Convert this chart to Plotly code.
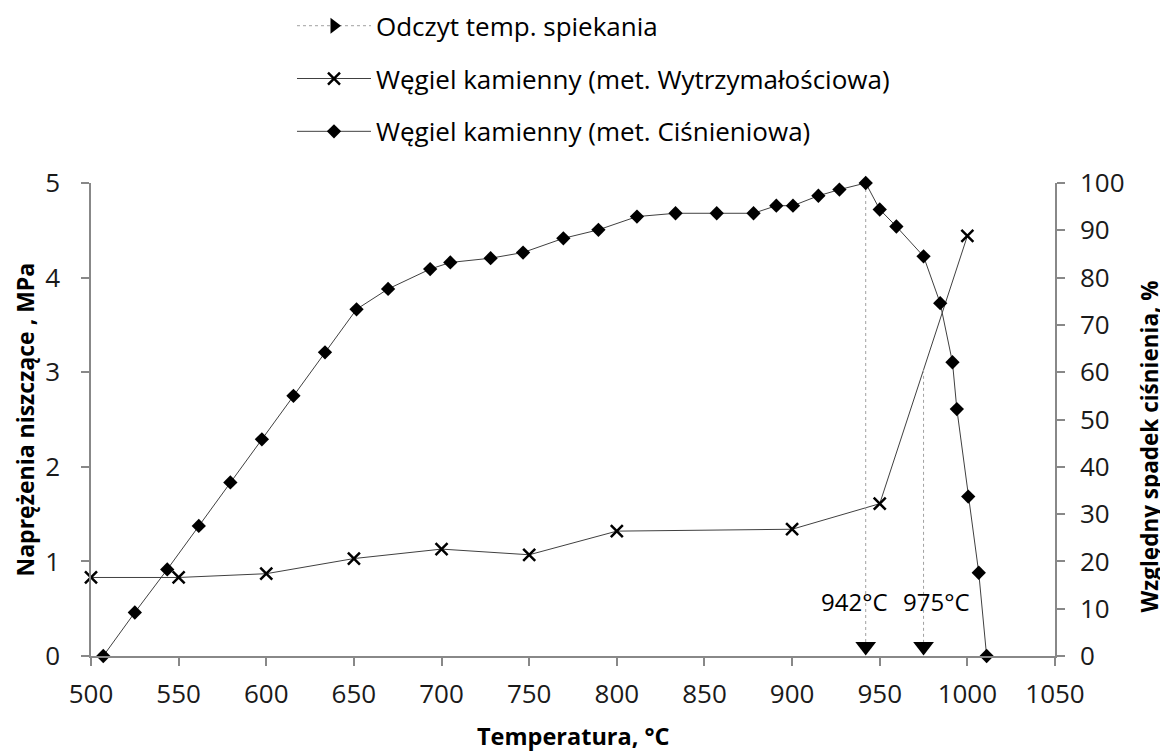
import plotly.graph_objects as go

# ---- data ----
temp_wytrz = [500, 550, 600, 650, 700, 750, 800, 900, 950, 1000]
napr_wytrz = [0.83, 0.83, 0.87, 1.03, 1.13, 1.07, 1.32, 1.34, 1.61, 4.44]

temp_cisn = [507, 525, 543.5, 561.5, 579.5, 597.5, 615.5, 633.5, 651.5, 669.5, 693.5, 705,
             728, 746.5, 769.5, 789.5, 811.5, 833.5, 857, 878, 891, 900.5, 915, 927, 942,
             950, 959.5, 975, 984.5, 991.5, 994, 1000.5, 1006.5, 1011]
spadek_cisn = [0, 9.2, 18.3, 27.5, 36.7, 45.8, 55.0, 64.2, 73.3, 77.6, 81.8, 83.2,
               84.1, 85.3, 88.3, 90.1, 92.9, 93.6, 93.6, 93.6, 95.2, 95.2, 97.3, 98.6, 100,
               94.4, 90.8, 84.5, 74.6, 62.1, 52.2, 33.7, 17.6, 0]

sinter_temp = [942, 975]
sinter_top_pct = [100, 60.5]
sinter_marker_pct = 2.0
sinter_labels = ["942°C", "975°C"]
sinter_label_shift = [-11, 13]

x_ticks = list(range(500, 1051, 50))
y_ticks = [0, 1, 2, 3, 4, 5]
y2_ticks = list(range(0, 101, 10))

FONT = "Open Sans"
AX = "#888888"
LINE = "#404040"

fig = go.Figure()

# legend-only entry for sintering reading
fig.add_trace(go.Scatter(
    x=[None], y=[None], mode="lines+markers", name="Odczyt temp. spiekania",
    line=dict(color="#a0a0a0", width=1, dash="dot"),
    marker=dict(symbol="triangle-right", size=14, color="black"),
    legendgroup="a", yaxis="y2"))

# dotted lines
lx, ly = [], []
for t, top in zip(sinter_temp, sinter_top_pct):
    lx += [t, t, None]
    ly += [top, sinter_marker_pct, None]
fig.add_trace(go.Scatter(
    x=lx, y=ly, mode="lines", showlegend=False, yaxis="y2",
    line=dict(color="#a0a0a0", width=1, dash="dot"), hoverinfo="skip"))
fig.add_trace(go.Scatter(
    x=sinter_temp, y=[sinter_marker_pct] * len(sinter_temp), mode="markers",
    showlegend=False, yaxis="y2", cliponaxis=False,
    marker=dict(symbol="triangle-down", size=18, color="black")))

fig.add_trace(go.Scatter(
    x=temp_wytrz, y=napr_wytrz, mode="lines+markers",
    name="Węgiel kamienny (met. Wytrzymałościowa)",
    line=dict(color=LINE, width=1),
    marker=dict(symbol="x-thin", size=12, color="black",
                line=dict(color="black", width=2.5)),
    cliponaxis=False, legendgroup="b"))

fig.add_trace(go.Scatter(
    x=temp_cisn, y=spadek_cisn, mode="lines+markers", yaxis="y2",
    name="Węgiel kamienny (met. Ciśnieniowa)",
    line=dict(color=LINE, width=1),
    marker=dict(symbol="diamond", size=11, color="black"),
    cliponaxis=False, legendgroup="c"))

annotations = []
for t, lab, sh in zip(sinter_temp, sinter_labels, sinter_label_shift):
    annotations.append(dict(x=t, y=0, xref="x", yref="y2", text=lab, showarrow=False,
                            xshift=sh, yshift=55, font=dict(family=FONT, size=24, color="black")))
annotations.append(dict(x=1.0975, y=0.443, xref="paper", yref="paper",
                        xanchor="center", yanchor="middle",
                        text="<b>Względny spadek ciśnienia, %</b>", textangle=-90,
                        showarrow=False, font=dict(family=FONT, size=22.5, color="black")))
annotations.append(dict(x=-0.0685, y=0.5, xref="paper", yref="paper",
                        xanchor="center", yanchor="middle",
                        text="<b>Naprężenia niszczące , MPa</b>", textangle=-90,
                        showarrow=False, font=dict(family=FONT, size=23, color="black")))
annotations.append(dict(x=0.5, y=-0.170, xref="paper", yref="paper",
                        xanchor="center", yanchor="middle",
                        text="<b>Temperatura, °C</b>",
                        showarrow=False, font=dict(family=FONT, size=23.5, color="black")))

axis_common = dict(showgrid=False, zeroline=False, showline=True, linecolor=AX, linewidth=1.5,
                   ticks="outside", ticklen=8, tickcolor=AX, tickwidth=1.5, automargin=False,
                   tickfont=dict(family=FONT, size=26, color="#1a1a1a"))

fig.update_layout(
    width=1152, height=743,
    margin=dict(l=83, r=105, t=175, b=95, autoexpand=False),
    plot_bgcolor="white", paper_bgcolor="white",
    font=dict(family=FONT, color="black"),
    xaxis=dict(range=[500, 1050], tickvals=x_ticks, ticklabelstandoff=6, **axis_common),
    yaxis=dict(range=[0, 5], tickvals=y_ticks, ticklabelstandoff=16, **axis_common),
    yaxis2=dict(range=[0, 100], tickvals=y2_ticks, overlaying="y", side="right",
                ticklabelstandoff=10, **axis_common),
    legend=dict(x=0.2085, xanchor="left", y=1.382, yanchor="top",
                font=dict(family=FONT, size=26, color="black"),
                itemwidth=74, tracegroupgap=16, bgcolor="rgba(0,0,0,0)"),
    annotations=annotations,
    showlegend=True,
)

fig.write_html("out.html")
